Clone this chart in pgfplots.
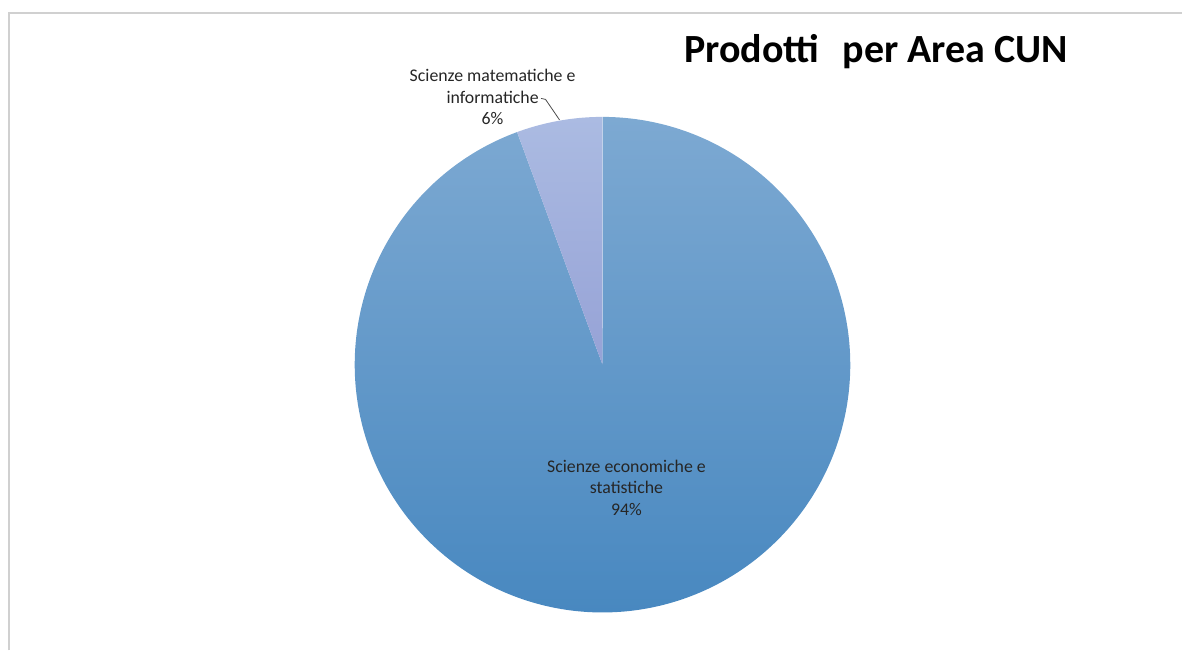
\documentclass[border=0pt]{standalone}
\usepackage{pgfplots}
\pgfplotsset{compat=1.18}
\usepackage{fontspec}
\setmainfont{Carlito}
\definecolor{bigtop}{HTML}{7DA9D2}
\definecolor{bigmid}{HTML}{609FD0}
\definecolor{bigbot}{HTML}{4888C0}
\definecolor{smalltop}{HTML}{ABBBE2}
\definecolor{smallbot}{HTML}{96A2D6}
\definecolor{frame}{HTML}{D0D0D0}
% shares (percent)
\def\valEco{94.4}
\def\valMat{5.6}
\begin{document}
\begin{tikzpicture}
\pgfmathsetmacro\aMid{90+3.6*\valMat}
\pgfmathsetmacro\aEnd{\aMid+3.6*\valEco}
\begin{axis}[
  scale only axis, width=591.5pt, height=325.5pt,
  xmin=0, xmax=1183, ymin=0, ymax=651,
  hide axis, clip=false,
]
\path (0,0) (1183,651);
\addplot[draw=frame, line width=1pt] coordinates {(9,0) (9,637.5) (1183,637.5)};
% Scienze economiche e statistiche
\addplot[draw=none, top color=bigtop, middle color=bigmid, bottom color=bigbot,
  domain=\aMid:\aEnd, samples=300, variable=\t]
  ({603+248*cos(\t)},{286+248*sin(\t)}) -- (603,286) -- cycle;
% Scienze matematiche e informatiche
\addplot[draw=none, top color=smalltop, bottom color=smallbot,
  domain=90:\aMid, samples=60, variable=\t]
  ({603+248*cos(\t)},{286+248*sin(\t)}) -- (603,286) -- cycle;
% leader line
\addplot[draw=black!70, line width=0.4pt] coordinates {(541.5,552.5) (546,551.5) (560,531)};
\node[align=center, font=\fontsize{8.9}{10.7}\selectfont, text=black!85] at (493,554)
  {Scienze matematiche e\\informatiche\\6\%};
\node[align=center, font=\fontsize{8.9}{10.7}\selectfont, text=black!85] at (627,163)
  {Scienze economiche e\\statistiche\\94\%};
\node[anchor=base, font=\fontsize{20}{24}\selectfont\bfseries] at (877,588)
  {Prodotti\hspace{0.58em}per Area CUN};
\end{axis}
\end{tikzpicture}
\end{document}
